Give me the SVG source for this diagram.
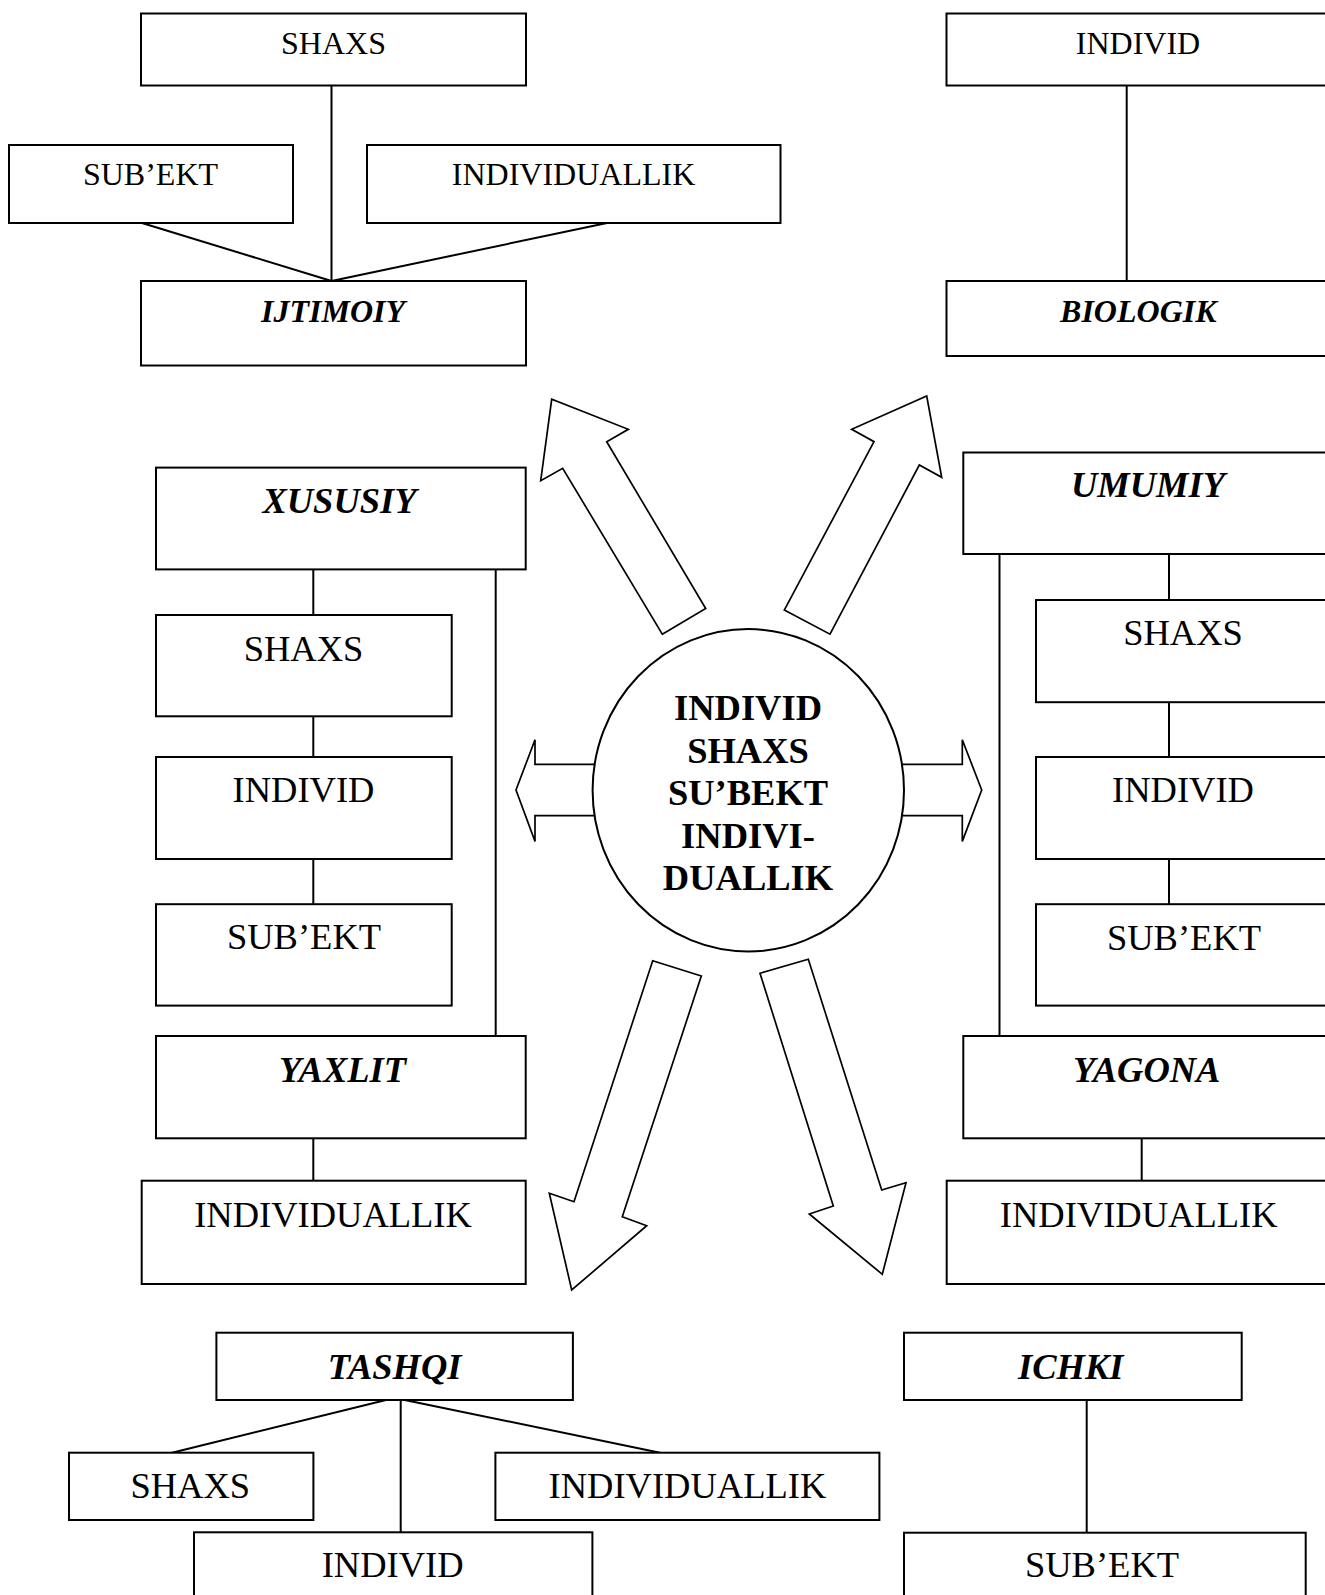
<svg xmlns="http://www.w3.org/2000/svg" width="1325" height="1595" viewBox="0 0 1325 1595">
<style>
.box{fill:#fff;stroke:#000;stroke-width:2}
.arr{fill:#fff;stroke:#000;stroke-width:1.7;stroke-linejoin:miter}
.ln{stroke:#000;stroke-width:2;fill:none}
text{font-family:"Liberation Serif","Times New Roman",serif;fill:#000;text-anchor:middle}
.s{font-size:32px}
.si{font-size:32px;font-weight:bold;font-style:italic}
.m{font-size:36.5px}
.mi{font-size:36.5px;font-weight:bold;font-style:italic}
.c{font-size:36.5px;font-weight:bold}
</style>
<rect width="1325" height="1595" fill="#fff"/>
<g id="connectors">
<line class="ln" x1="331.5" y1="85.5" x2="331.5" y2="281"/>
<line class="ln" x1="142" y1="223" x2="331.5" y2="281"/>
<line class="ln" x1="607" y1="223" x2="331.5" y2="281"/>
<line class="ln" x1="1126.7" y1="85.5" x2="1126.7" y2="281"/>
<line class="ln" x1="313.3" y1="569.4" x2="313.3" y2="615"/>
<line class="ln" x1="313.3" y1="716.3" x2="313.3" y2="757"/>
<line class="ln" x1="313.3" y1="859" x2="313.3" y2="904.2"/>
<line class="ln" x1="495.7" y1="569.4" x2="495.7" y2="1036"/>
<line class="ln" x1="313.3" y1="1138.3" x2="313.3" y2="1180.7"/>
<line class="ln" x1="1169" y1="554" x2="1169" y2="600"/>
<line class="ln" x1="1169" y1="702.2" x2="1169" y2="757"/>
<line class="ln" x1="1169" y1="859" x2="1169" y2="904.2"/>
<line class="ln" x1="999.5" y1="554" x2="999.5" y2="1036"/>
<line class="ln" x1="1141.7" y1="1138.3" x2="1141.7" y2="1180.7"/>
<line class="ln" x1="386" y1="1400" x2="172" y2="1452.7"/>
<line class="ln" x1="400.7" y1="1400" x2="400.7" y2="1532.3"/>
<line class="ln" x1="404.7" y1="1400" x2="660" y2="1452.7"/>
<line class="ln" x1="1086.7" y1="1400" x2="1086.7" y2="1532.7"/>
</g>
<g id="arrows">
<polygon class="arr" points="662.3,634.2 705.7,608.5 606.7,441.7 628.3,429.3 551.7,399.3 540.7,480.7 562.7,468.3"/>
<polygon class="arr" points="784.3,610.1 830,634.2 919.3,465 941.7,477.3 926.7,396 851.7,429.3 874,441.7"/>
<polygon class="arr" points="600,764.3 535,764.3 535,739.8 516,790 535,841.4 535,815.7 600,815.7"/>
<polygon class="arr" points="897,764.3 962.3,764.3 962.3,739.8 981.7,790 962.3,841.4 962.3,815.7 897,815.7"/>
<polygon class="arr" points="652.7,960.7 701.3,976 622.3,1216.7 646.7,1225.7 571.7,1290 549.3,1193.3 574,1201.7"/>
<polygon class="arr" points="760,973.3 808.3,959.3 881.7,1190 906,1182.7 882.3,1274.3 809.3,1214 833.3,1206"/>
</g>
<g id="center">
<ellipse cx="748.3" cy="790.3" rx="155.7" ry="161.2" fill="#fff" stroke="#000" stroke-width="2"/>
<text class="c" x="748" y="720">INDIVID</text>
<text class="c" x="748" y="762.8">SHAXS</text>
<text class="c" x="748" y="805">SU’BEKT</text>
<text class="c" x="748" y="847.8">INDIVI-</text>
<text class="c" x="748" y="890">DUALLIK</text>
</g>
<g id="tl-shaxs"><rect class="box" x="141" y="13.5" width="385" height="72"/><text class="s" x="333.5" y="54">SHAXS</text></g>
<g id="tl-subekt"><rect class="box" x="9" y="145" width="284" height="78"/><text class="s" x="150.5" y="185">SUB’EKT</text></g>
<g id="tl-individuallik"><rect class="box" x="367" y="145" width="413.5" height="78"/><text class="s" x="573.5" y="185">INDIVIDUALLIK</text></g>
<g id="ijtimoiy"><rect class="box" x="141" y="281" width="385" height="84.5"/><text class="si" x="333" y="322">IJTIMOIY</text></g>
<g id="tr-individ"><rect class="box" x="946.5" y="13.5" width="385" height="72"/><text class="s" x="1138" y="54">INDIVID</text></g>
<g id="biologik"><rect class="box" x="946.5" y="281" width="385" height="75"/><text class="si" x="1138.3" y="322">BIOLOGIK</text></g>
<g id="xususiy"><rect class="box" x="156" y="467.6" width="369.7" height="101.8"/><text class="mi" x="339.5" y="512.7">XUSUSIY</text></g>
<g id="l-shaxs"><rect class="box" x="156" y="615" width="295.7" height="101.3"/><text class="m" x="303.5" y="660.8">SHAXS</text></g>
<g id="l-individ"><rect class="box" x="156" y="757" width="295.7" height="102"/><text class="m" x="303.5" y="801.7">INDIVID</text></g>
<g id="l-subekt"><rect class="box" x="156" y="904.2" width="295.7" height="101.4"/><text class="m" x="304" y="949">SUB’EKT</text></g>
<g id="yaxlit"><rect class="box" x="156" y="1036" width="369.7" height="102.3"/><text class="mi" x="342.5" y="1082.3">YAXLIT</text></g>
<g id="l-individuallik"><rect class="box" x="141.7" y="1180.7" width="384" height="103.3"/><text class="m" x="333" y="1227.3">INDIVIDUALLIK</text></g>
<g id="umumiy"><rect class="box" x="963.3" y="452.5" width="370" height="101.5"/><text class="mi" x="1148" y="497.4">UMUMIY</text></g>
<g id="r-shaxs"><rect class="box" x="1036" y="600" width="295" height="102.2"/><text class="m" x="1183" y="644.7">SHAXS</text></g>
<g id="r-individ"><rect class="box" x="1036" y="757" width="295" height="102"/><text class="m" x="1183" y="801.7">INDIVID</text></g>
<g id="r-subekt"><rect class="box" x="1036" y="904.2" width="295" height="101.4"/><text class="m" x="1184" y="950">SUB’EKT</text></g>
<g id="yagona"><rect class="box" x="963.3" y="1036" width="370" height="102.3"/><text class="mi" x="1146.8" y="1082.3">YAGONA</text></g>
<g id="r-individuallik"><rect class="box" x="946.7" y="1180.7" width="385" height="103.3"/><text class="m" x="1138.7" y="1227.3">INDIVIDUALLIK</text></g>
<g id="tashqi"><rect class="box" x="216.4" y="1332.7" width="356.5" height="67.3"/><text class="mi" x="394.6" y="1379">TASHQI</text></g>
<g id="b-shaxs"><rect class="box" x="69" y="1452.7" width="244.4" height="67.3"/><text class="m" x="190.3" y="1498.3">SHAXS</text></g>
<g id="b-individuallik"><rect class="box" x="495.4" y="1452.7" width="384" height="67.3"/><text class="m" x="687.4" y="1498.3">INDIVIDUALLIK</text></g>
<g id="b-individ"><rect class="box" x="194" y="1532.3" width="398.4" height="80"/><text class="m" x="392.6" y="1577.3">INDIVID</text></g>
<g id="ichki"><rect class="box" x="904" y="1332.7" width="337.7" height="67.3"/><text class="mi" x="1070.8" y="1379">ICHKI</text></g>
<g id="b-subekt"><rect class="box" x="904" y="1532.7" width="401.7" height="80"/><text class="m" x="1102" y="1577.3">SUB’EKT</text></g>
</svg>
